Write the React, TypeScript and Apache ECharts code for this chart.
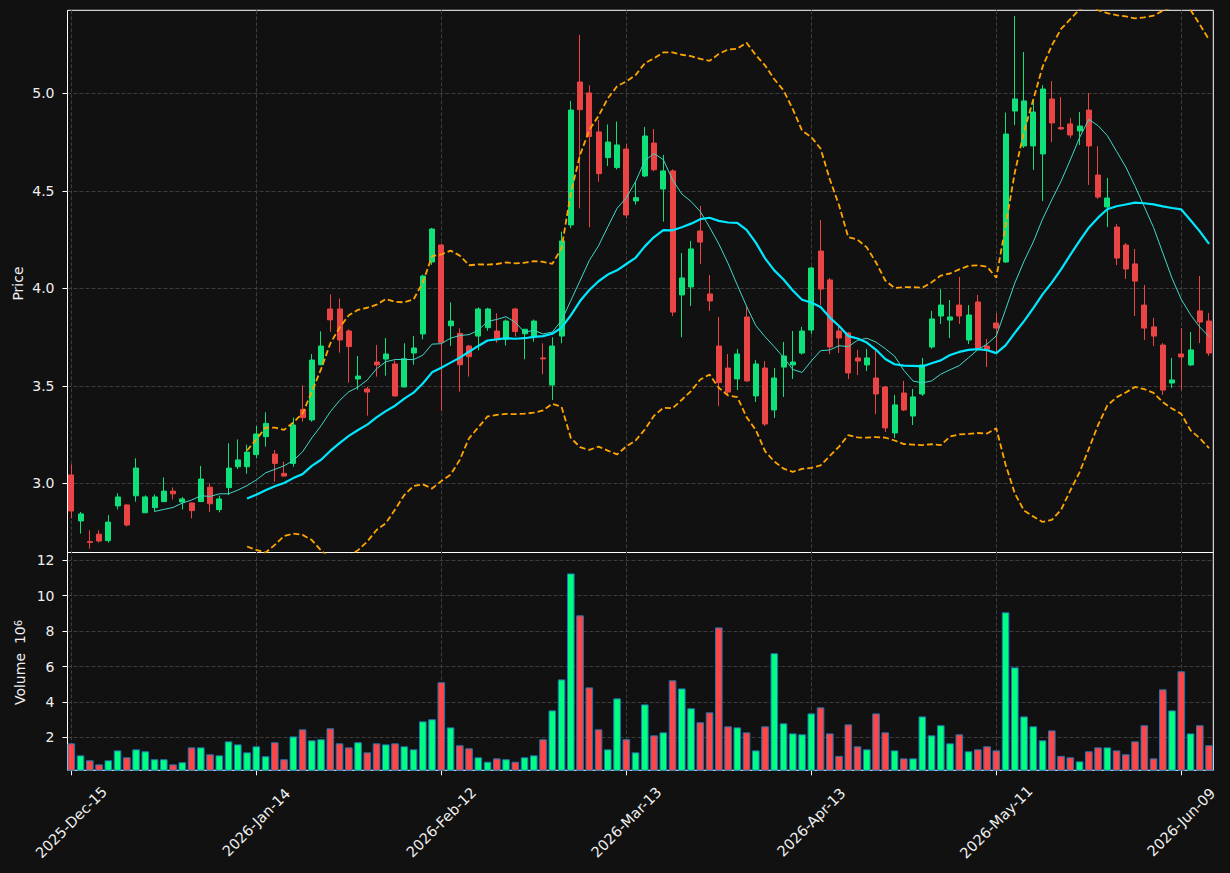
import React, { useEffect, useRef } from "react";
import * as echarts from "echarts";

// ---------- categories ----------
const START_DATE = "2025-12-15";
const HOLIDAYS = ["2025-12-25", "2026-01-01", "2026-01-19", "2026-02-16", "2026-04-03", "2026-05-25"];
const BAR_COUNT = 124;
const MONTHS = ["Jan", "Feb", "Mar", "Apr", "May", "Jun", "Jul", "Aug", "Sep", "Oct", "Nov", "Dec"];

// ---------- series values ----------
const OPEN = [
  3.043, 2.807, 2.701, 2.739, 2.706, 2.884, 2.889, 2.936, 2.849, 2.875,
  2.906, 2.960, 2.904, 2.899, 2.906, 2.980, 2.865, 2.978, 3.085, 3.085,
  3.147, 3.239, 3.150, 3.051, 3.102, 3.379, 3.325, 3.608, 3.894, 3.894,
  3.781, 3.535, 3.484, 3.622, 3.637, 3.612, 3.494, 3.668, 3.766, 4.135,
  4.222, 3.808, 3.769, 3.704, 3.755, 3.798, 3.781, 3.738, 3.894, 3.767,
  3.752, 3.643, 3.504, 3.755, 4.325, 5.058, 5.002, 4.802, 4.670, 4.619,
  4.714, 4.448, 4.576, 4.745, 4.509, 4.602, 3.966, 4.007, 4.294, 3.971,
  3.704, 3.591, 3.535, 3.853, 3.448, 3.591, 3.376, 3.596, 3.607, 3.668,
  3.786, 4.191, 4.043, 3.781, 3.771, 3.643, 3.607, 3.540, 3.494, 3.258,
  3.463, 3.345, 3.458, 3.699, 3.858, 3.837, 3.914, 3.735, 3.930, 3.704,
  3.822, 4.135, 4.909, 4.730, 4.730, 4.689, 4.971, 4.824, 4.843, 4.807,
  4.914, 4.581, 4.417, 4.314, 4.222, 4.125, 3.914, 3.802, 3.709, 3.514,
  3.663, 3.607, 3.884, 3.832,
];
const CLOSE = [
  2.858, 2.843, 2.697, 2.704, 2.801, 2.930, 2.786, 3.078, 2.930, 2.930,
  2.960, 2.946, 2.920, 2.860, 3.022, 2.895, 2.920, 3.078, 3.120, 3.160,
  3.253, 3.307, 3.102, 3.037, 3.299, 3.337, 3.632, 3.704, 3.838, 3.735,
  3.701, 3.550, 3.468, 3.607, 3.663, 3.448, 3.639, 3.694, 4.063, 4.304,
  3.723, 3.832, 3.608, 3.649, 3.894, 3.894, 3.743, 3.832, 3.778, 3.790,
  3.832, 3.638, 3.704, 4.243, 4.914, 4.916, 4.778, 4.588, 4.750, 4.735,
  4.376, 4.465, 4.781, 4.608, 4.602, 3.878, 4.053, 4.202, 4.237, 3.935,
  3.516, 3.468, 3.663, 3.525, 3.612, 3.304, 3.540, 3.653, 3.622, 3.781,
  4.104, 3.996, 3.699, 3.745, 3.566, 3.627, 3.643, 3.458, 3.284, 3.402,
  3.376, 3.443, 3.607, 3.843, 3.914, 3.853, 3.858, 3.863, 3.694, 3.688,
  3.796, 4.791, 4.971, 4.961, 4.904, 5.022, 4.848, 4.817, 4.786, 4.832,
  4.730, 4.468, 4.463, 4.155, 4.099, 4.037, 3.796, 3.755, 3.478, 3.530,
  3.648, 3.684, 3.827, 3.668,
];
const LOW = [
  2.820, 2.742, 2.665, 2.696, 2.696, 2.866, 2.778, 2.906, 2.847, 2.855,
  2.904, 2.917, 2.866, 2.820, 2.904, 2.853, 2.851, 2.940, 3.073, 3.049,
  3.128, 3.188, 3.008, 3.035, 3.085, 3.316, 3.316, 3.606, 3.777, 3.670,
  3.516, 3.480, 3.347, 3.547, 3.552, 3.446, 3.492, 3.608, 3.738, 4.120,
  3.371, 3.704, 3.470, 3.547, 3.682, 3.782, 3.721, 3.706, 3.752, 3.636,
  3.726, 3.559, 3.427, 3.718, 4.308, 4.410, 4.313, 4.547, 4.627, 4.610,
  4.359, 4.429, 4.570, 4.600, 4.342, 3.858, 3.749, 3.909, 4.125, 3.884,
  3.396, 3.458, 3.478, 3.520, 3.417, 3.294, 3.335, 3.443, 3.535, 3.660,
  3.766, 3.914, 3.663, 3.668, 3.535, 3.555, 3.576, 3.355, 3.263, 3.232,
  3.370, 3.299, 3.448, 3.690, 3.817, 3.745, 3.817, 3.714, 3.690, 3.596,
  3.673, 4.130, 4.837, 4.720, 4.607, 4.448, 4.750, 4.812, 4.771, 4.735,
  4.530, 4.458, 4.314, 4.119, 4.048, 3.858, 3.735, 3.704, 3.453, 3.489,
  3.478, 3.601, 3.719, 3.653,
];
const HIGH = [
  3.097, 2.853, 2.759, 2.759, 2.837, 2.949, 2.892, 3.128, 2.938, 2.943,
  3.030, 2.979, 2.930, 2.901, 3.089, 3.000, 2.937, 3.205, 3.225, 3.198,
  3.294, 3.364, 3.171, 3.111, 3.337, 3.502, 3.663, 3.779, 3.969, 3.948,
  3.790, 3.653, 3.495, 3.709, 3.745, 3.629, 3.718, 3.755, 4.070, 4.310,
  4.230, 3.928, 3.795, 3.710, 3.902, 3.900, 3.872, 3.840, 3.900, 3.792,
  3.840, 3.718, 3.749, 4.290, 4.961, 5.300, 5.041, 4.863, 4.840, 4.855,
  4.740, 4.547, 4.827, 4.817, 4.684, 4.610, 4.181, 4.243, 4.422, 4.068,
  3.853, 3.663, 3.689, 3.909, 3.632, 3.627, 3.591, 3.725, 3.781, 3.802,
  4.110, 4.350, 4.053, 3.812, 3.775, 3.684, 3.689, 3.684, 3.500, 3.453,
  3.525, 3.484, 3.643, 3.884, 3.996, 3.940, 4.058, 3.914, 3.966, 3.740,
  3.873, 4.901, 5.396, 5.212, 4.966, 5.042, 5.063, 4.981, 4.873, 4.904,
  5.002, 4.729, 4.566, 4.329, 4.232, 4.202, 4.017, 3.848, 3.719, 3.643,
  3.796, 3.776, 4.063, 3.873,
];
// volume in millions (axis label reads "Volume 10^6")
const VOLUME = [
  1.66, 0.98, 0.70, 0.47, 0.70, 1.26, 0.87, 1.32, 1.21, 0.76,
  0.76, 0.47, 0.59, 1.43, 1.43, 1.04, 0.98, 1.77, 1.60, 1.15,
  1.49, 0.93, 1.72, 0.76, 2.05, 2.45, 1.83, 1.89, 2.51, 1.66,
  1.43, 1.72, 1.15, 1.66, 1.60, 1.66, 1.49, 1.32, 2.90, 3.02,
  5.11, 2.56, 1.55, 1.38, 0.87, 0.62, 0.81, 0.76, 0.62, 0.87,
  0.98, 1.89, 3.52, 5.27, 11.26, 8.89, 4.82, 2.45, 1.32, 4.20,
  1.89, 1.15, 3.86, 2.11, 2.28, 5.22, 4.76, 3.64, 2.85, 3.41,
  8.21, 2.62, 2.56, 2.28, 1.26, 2.62, 6.75, 2.79, 2.22, 2.17,
  3.35, 3.69, 2.22, 0.95, 2.73, 1.49, 1.32, 3.35, 2.28, 1.26,
  0.81, 0.81, 3.18, 2.11, 2.68, 1.66, 2.17, 1.21, 1.32, 1.49,
  1.26, 9.06, 5.95, 3.18, 2.62, 1.83, 2.39, 0.95, 0.87, 0.64,
  1.21, 1.43, 1.43, 1.26, 1.04, 1.77, 2.68, 0.81, 4.71, 3.52,
  5.73, 2.22, 2.68, 1.55,
];

// ---------- tick settings ----------
const PRICE_TICK_MIN = 3.0;
const PRICE_TICK_MAX = 5.0;
const PRICE_TICK_STEP = 0.5;
const VOL_TICK_MIN = 2;
const VOL_TICK_MAX = 12;
const VOL_TICK_STEP = 2;
const DATE_TICK_STEP = 20;
const DATE_TICK_LAST = 120;
const MA_SHORT = 10;
const MA_LONG = 20;
const BB_K = 2;

// ---------- derived ----------
function tradingDays(start: string, count: number, holidays: string[]): string[] {
  const out: string[] = [];
  const d = new Date(start + "T00:00:00Z");
  while (out.length < count) {
    const wd = d.getUTCDay();
    const iso = d.toISOString().slice(0, 10);
    if (wd !== 0 && wd !== 6 && holidays.indexOf(iso) < 0) out.push(iso);
    d.setUTCDate(d.getUTCDate() + 1);
  }
  return out;
}
const DATES = tradingDays(START_DATE, BAR_COUNT, HOLIDAYS);
const fmtDate = (iso: string) => {
  if (!iso) return "";
  const [y, m, d] = iso.split("-");
  return `${y}-${MONTHS[parseInt(m, 10) - 1]}-${d}`;
};

function rolling(arr: number[], n: number, fn: (w: number[]) => number): (number | string)[] {
  return arr.map((_, i) => (i < n - 1 ? "-" : fn(arr.slice(i - n + 1, i + 1))));
}
const mean = (w: number[]) => w.reduce((a, b) => a + b, 0) / w.length;
const pstd = (w: number[]) => {
  const m = mean(w);
  return Math.sqrt(w.reduce((a, b) => a + (b - m) * (b - m), 0) / w.length);
};
const MA10 = rolling(CLOSE, MA_SHORT, mean);
const MA20 = rolling(CLOSE, MA_LONG, mean);
const BB_UP = rolling(CLOSE, MA_LONG, (w) => mean(w) + BB_K * pstd(w));
const BB_DN = rolling(CLOSE, MA_LONG, (w) => mean(w) - BB_K * pstd(w));

// ---------- styles / layout ----------
const BG = "#111111";
const TEXT = "#f0f0f0";
const GRIDLINE = "#3d3d3d";
const UP = "#0fe07a";
const DOWN = "#ea4444";
const VOL_UP = "#00ff80";
const VOL_DOWN = "#ff4545";
const FONT = '"DejaVu Sans", sans-serif';

const STEP = 9.25;
const FIRST_X = 71.3;
const FRAME_L = 67.5;
const FRAME_W = 1145.8;
const MAIN_TOP = 10.3;
const MAIN_BOTTOM = 552.5;
const VOL_BOTTOM = 770.3;
const Y3 = 483.3; // pixel of price 3.0
const PX_PER_PRICE = 195;
const Y_VOL2 = 737.3; // pixel of volume 2
const PX_PER_VOL = 17.7;

export default function App() {
  const ref = useRef<HTMLDivElement>(null);
  useEffect(() => {
    if (!ref.current) return;
    const chart = echarts.init(ref.current, undefined, { renderer: "svg" });

    const dataLeft = FIRST_X - STEP / 2;
    const dataWidth = STEP * BAR_COUNT;
    const pMin = PRICE_TICK_MIN - (MAIN_BOTTOM - Y3) / PX_PER_PRICE;
    const pMax = PRICE_TICK_MIN + (Y3 - MAIN_TOP) / PX_PER_PRICE;
    const vMin = VOL_TICK_MIN - (VOL_BOTTOM - Y_VOL2) / PX_PER_VOL;
    const vMax = VOL_TICK_MIN + (Y_VOL2 - MAIN_BOTTOM) / PX_PER_VOL;
    const y5 = Y3 - (PRICE_TICK_MAX - PRICE_TICK_MIN) * PX_PER_PRICE;
    const y12 = Y_VOL2 - (VOL_TICK_MAX - VOL_TICK_MIN) * PX_PER_VOL;

    const hidden01 = (gi: number) => ({ type: "value", gridIndex: gi, min: 0, max: 1, show: false });
    const split = { show: true, lineStyle: { color: GRIDLINE, type: [4, 2], width: 1 } };
    const labelStyle = { color: TEXT, fontSize: 14, fontFamily: FONT };

    const candles = OPEN.map((o, i) => [o, CLOSE[i], LOW[i], HIGH[i]]);
    const vols = VOLUME.map((v, i) => ({
      value: v,
      itemStyle: { color: CLOSE[i] >= OPEN[i] ? VOL_UP : VOL_DOWN },
    }));

    const option: any = {
      animation: false,
      backgroundColor: BG,
      grid: [
        { left: dataLeft, top: MAIN_TOP, width: dataWidth, height: MAIN_BOTTOM - MAIN_TOP },
        { left: dataLeft, top: MAIN_BOTTOM, width: dataWidth, height: VOL_BOTTOM - MAIN_BOTTOM },
        { left: FRAME_L, top: MAIN_TOP, width: FRAME_W, height: MAIN_BOTTOM - MAIN_TOP, show: true, borderColor: "#ffffff", borderWidth: 1, backgroundColor: "transparent" },
        { left: FRAME_L, top: MAIN_BOTTOM, width: FRAME_W, height: VOL_BOTTOM - MAIN_BOTTOM, show: true, borderColor: "#ffffff", borderWidth: 1, backgroundColor: "transparent" },
        { left: FRAME_L, top: y5, width: FRAME_W, height: Y3 - y5 },
        { left: FRAME_L, top: y12, width: FRAME_W, height: Y_VOL2 - y12 },
        { left: FIRST_X, top: MAIN_TOP, width: DATE_TICK_LAST * STEP, height: VOL_BOTTOM - MAIN_TOP },
      ],
      xAxis: [
        { type: "category", gridIndex: 0, data: DATES, boundaryGap: true, show: false },
        { type: "category", gridIndex: 1, data: DATES, boundaryGap: true, show: false },
        hidden01(2),
        hidden01(3),
        hidden01(4),
        hidden01(5),
        {
          type: "value",
          gridIndex: 6,
          min: 0,
          max: DATE_TICK_LAST,
          interval: DATE_TICK_STEP,
          position: "bottom",
          axisLine: { show: false },
          axisTick: { show: true, length: 5, lineStyle: { color: "#ffffff" } },
          axisLabel: {
            ...labelStyle,
            fontSize: 14.5,
            rotate: 45,
            align: "center",
            verticalAlign: "middle",
            margin: 52,
            formatter: (v: number) => fmtDate(DATES[Math.round(v)]),
          },
          splitLine: split,
        },
      ],
      yAxis: [
        { type: "value", gridIndex: 0, min: pMin, max: pMax, show: false },
        { type: "value", gridIndex: 1, min: vMin, max: vMax, show: false },
        hidden01(2),
        hidden01(3),
        {
          type: "value",
          gridIndex: 4,
          min: PRICE_TICK_MIN,
          max: PRICE_TICK_MAX,
          interval: PRICE_TICK_STEP,
          axisLine: { show: false },
          axisTick: { show: true, length: 5, lineStyle: { color: "#ffffff" } },
          axisLabel: { ...labelStyle, margin: 13, formatter: (v: number) => v.toFixed(1) },
          splitLine: split,
        },
        {
          type: "value",
          gridIndex: 5,
          min: VOL_TICK_MIN,
          max: VOL_TICK_MAX,
          interval: VOL_TICK_STEP,
          axisLine: { show: false },
          axisTick: { show: true, length: 5, lineStyle: { color: "#ffffff" } },
          axisLabel: { ...labelStyle, margin: 13, formatter: (v: number) => String(v) },
          splitLine: split,
        },
        hidden01(6),
      ],
      graphic: [
        {
          type: "text",
          x: 18,
          y: 283.5,
          rotation: Math.PI / 2,
          style: { text: "Price", fill: TEXT, font: `14px ${FONT}`, align: "center", verticalAlign: "middle", textAlign: "center", textVerticalAlign: "middle" },
        },
        {
          type: "text",
          x: 20,
          y: 662.5,
          rotation: Math.PI / 2,
          style: {
            text: "Volume  10{sup|6}",
            fill: TEXT,
            font: `14px ${FONT}`,
            align: "center",
            verticalAlign: "middle",
            textAlign: "center",
            textVerticalAlign: "middle",
            rich: {
              sup: { fontSize: 10, fontFamily: FONT, fill: TEXT, verticalAlign: "top", lineHeight: 10 },
            },
          },
        },
      ],
      series: [
        {
          type: "candlestick",
          xAxisIndex: 0,
          yAxisIndex: 0,
          data: candles,
          barWidth: 5.5,
          itemStyle: { color: UP, color0: DOWN, borderColor: UP, borderColor0: DOWN, borderWidth: 1 },
        },
        {
          type: "line", xAxisIndex: 0, yAxisIndex: 0, data: MA10, showSymbol: false, symbol: "none",
          lineStyle: { color: "#3fd8c8", width: 1 }, z: 3,
        },
        {
          type: "line", xAxisIndex: 0, yAxisIndex: 0, data: MA20, showSymbol: false, symbol: "none",
          lineStyle: { color: "#00e8ff", width: 2.2 }, z: 3,
        },
        {
          type: "line", xAxisIndex: 0, yAxisIndex: 0, data: BB_UP, showSymbol: false, symbol: "none",
          lineStyle: { color: "#ffa500", width: 1.8, type: [6, 3] }, z: 3,
        },
        {
          type: "line", xAxisIndex: 0, yAxisIndex: 0, data: BB_DN, showSymbol: false, symbol: "none",
          lineStyle: { color: "#ffa500", width: 1.8, type: [6, 3] }, z: 3,
        },
        {
          type: "bar",
          xAxisIndex: 1,
          yAxisIndex: 1,
          data: vols,
          barWidth: 7.6,
          itemStyle: { borderColor: "#1f77b4", borderWidth: 1 },
        },
      ],
    };
    chart.setOption(option);
    return () => chart.dispose();
  }, []);

  return (
    <div
      ref={ref}
      style={{ position: "fixed", left: 0, top: 0, width: 1230, height: 873, background: BG }}
    />
  );
}
